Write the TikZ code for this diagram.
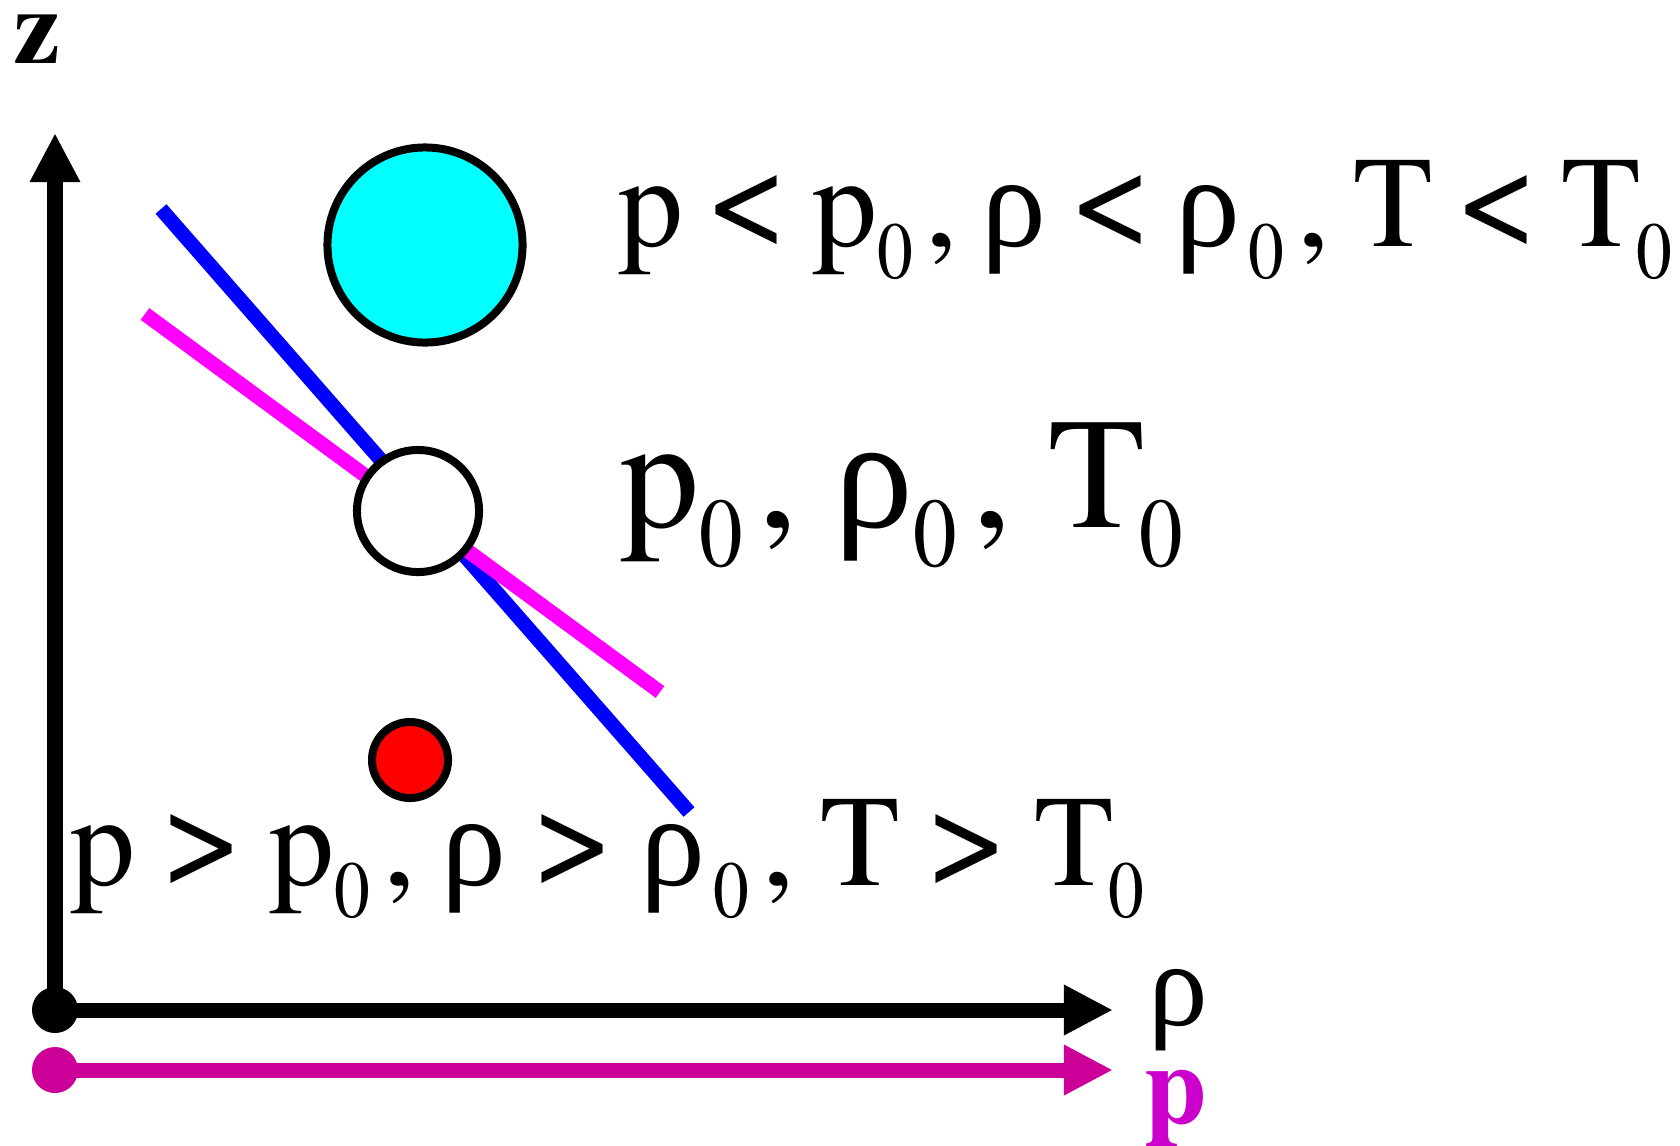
\documentclass[tikz,border=0pt]{standalone}
\usepackage{fontspec}
\setmainfont{TeX Gyre Termes}
\newfontfamily\rhofont{Liberation Serif}
\usetikzlibrary{arrows.meta}
\newcommand\zsub{\raisebox{-0.25em}{\scalebox{0.55}[0.62]{0}}}
\newcommand\rh{{\rhofont ρ}}
\newcommand\rhz{{\rhofont ρ}\kern0.06em\zsub}
\newcommand\Tz{T\kern-0.04em\zsub}
\newcommand\cmm{\kern0.1em,}
\newcommand\lt{\scalebox{1.12}{<}}
\newcommand\gt{\scalebox{1.12}{>}}
\newcommand\setlbl[2]{\fontsize{#1}{#1}\selectfont\spaceskip=#2em\relax}
\definecolor{axmag}{RGB}{204,0,153}
\definecolor{plabel}{RGB}{204,0,204}
\definecolor{linemag}{RGB}{255,0,255}
\definecolor{lineblue}{RGB}{0,0,255}
\definecolor{dotcyan}{RGB}{0,255,255}
\definecolor{dotred}{RGB}{255,0,0}
\begin{document}
\begin{tikzpicture}[x=0.01cm,y=-0.01cm,
  axis/.style={line width=0.15cm,-{Triangle[length=0.49cm,width=0.47cm]}},
  origdot/.style={circle,inner sep=0pt,minimum size=0.46cm},
  slope/.style={line width=0.145cm},
  ball/.style={circle,draw=black,line width=0.08cm,inner sep=0pt},
  lbl/.style={anchor=base west,inner sep=0pt,outer sep=0pt}]
\useasboundingbox (0,0) rectangle (1680,1145);
% axes
\coordinate (o1) at (55,1010);
\coordinate (o2) at (55,1070);
\coordinate (zt) at (55,133);
\coordinate (rt) at (1113,1010);
\coordinate (pt) at (1113,1070);
\draw[axis,black] (o1) -- (zt);
\draw[axis,black] (o1) -- (rt);
\draw[axis,axmag] (o2) -- (pt);
\node[origdot,fill=black] (d1) at (o1) {};
\node[origdot,fill=axmag] (d2) at (o2) {};
% slope lines
\coordinate (b1) at (161,209);
\coordinate (b2) at (689,812);
\coordinate (m1) at (145,314);
\coordinate (m2) at (660,692);
\draw[slope,lineblue] (b1) -- (b2);
\draw[slope,linemag] (m1) -- (m2);
% balls
\node[ball,fill=dotcyan,minimum size=1.95cm] (cy) at (425,245) {};
\node[ball,fill=white,minimum size=1.22cm] (wh) at (418,511) {};
\node[ball,fill=dotred,minimum size=0.76cm] (rd) at (410,760) {};
% labels
\node[lbl] (tz) at (14,63) {\fontsize{30}{32}\selectfont\bfseries z};
\node[lbl] (trho) at (1148,1025) {\fontsize{34}{36}\selectfont\rh};
\node[lbl,text=plabel] (tp) at (1144,1123) {\fontsize{32}{34}\selectfont\bfseries p};
\node[lbl] (ttop) at (618,246) {\setlbl{37}{0.18}p \lt{} p\zsub\cmm{} \rh{} \lt{} \rhz\cmm{} T \lt{} \Tz};
\node[lbl] (tmid) at (620,527) {\setlbl{45}{0.23}p\zsub\cmm{} {\rhofont ρ}\zsub\cmm{} \Tz};
\node[lbl] (tbot) at (70,885) {\setlbl{37}{0.2}p \gt{} p\zsub\cmm{} \rh{} \gt{} \rhz\cmm{} T \gt{} \Tz};
\end{tikzpicture}
\end{document}
